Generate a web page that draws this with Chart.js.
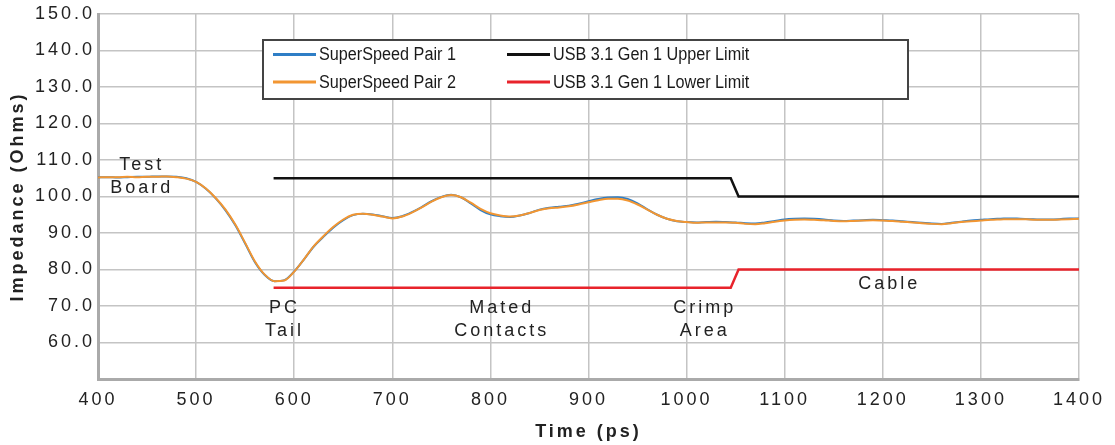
<!DOCTYPE html>
<html>
<head>
<meta charset="utf-8">
<script src="https://cdn.jsdelivr.net/npm/chart.js@4"></script>
<style>
html,body{margin:0;padding:0;background:#fff;}
#wrap{width:1115px;height:445px;position:relative;}
</style>
</head>
<body>
<div id="wrap"><canvas id="c" width="1115" height="445"></canvas></div>
<script>
// ---- data ----
const timePs = [];
for (let t = 400; t <= 1400; t += 10) timePs.push(t);

const pair1 = [
  105.3,105.3,105.2,105.3,105.4,105.4,105.5,105.5,105.4,105.0,
  104.0,102.1, 99.5, 96.2, 92.1, 87.1, 82.0, 78.5, 76.8, 77.1,
   79.5, 82.8, 86.3, 89.0, 91.5, 93.5, 94.9, 95.3, 95.1, 94.6,
   94.1, 94.6, 95.7, 97.1, 98.7, 99.9,100.5, 99.8, 98.1, 96.3,
   95.1, 94.6, 94.4, 94.8, 95.5, 96.4, 96.9, 97.2, 97.5, 98.0,
   98.7, 99.3, 99.7, 99.8, 99.3, 98.1, 96.5, 95.0, 93.9, 93.2,
   93.0, 92.9, 93.0, 93.1, 93.0, 92.9, 92.7, 92.6, 92.9, 93.3,
   93.7, 93.9, 94.0, 93.9, 93.7, 93.4, 93.3, 93.4, 93.5, 93.6,
   93.5, 93.4, 93.2, 93.0, 92.8, 92.6, 92.5, 92.8, 93.1, 93.4,
   93.6, 93.8, 93.9, 94.0, 93.9, 93.8, 93.7, 93.7, 93.8, 94.0,
   94.0
];
const pair2 = [
  105.2,105.3,105.3,105.4,105.3,105.4,105.4,105.5,105.3,104.9,
  104.0,102.2, 99.6, 96.4, 92.3, 87.3, 82.2, 78.6, 76.8, 77.0,
   79.4, 82.8, 86.4, 89.2, 91.7, 93.7, 95.0, 95.3, 95.0, 94.5,
   94.0, 94.5, 95.6, 97.0, 98.6, 99.8,100.4, 99.8, 98.3, 96.6,
   95.4, 94.8, 94.5, 94.8, 95.5, 96.3, 96.8, 97.0, 97.3, 97.8,
   98.4, 99.0, 99.4, 99.4, 98.9, 97.8, 96.4, 95.0, 93.9, 93.3,
   93.0, 92.8, 92.9, 92.9, 92.9, 92.8, 92.5, 92.4, 92.7, 93.1,
   93.4, 93.6, 93.7, 93.6, 93.5, 93.3, 93.2, 93.3, 93.4, 93.5,
   93.4, 93.3, 93.1, 92.9, 92.7, 92.5, 92.4, 92.7, 93.0, 93.2,
   93.4, 93.6, 93.7, 93.8, 93.8, 93.7, 93.6, 93.6, 93.7, 93.8,
   93.9
];

const limitTimePs = [579, 1045, 1053, 1400];
const upperLimit = [105, 105, 100, 100];
const lowerLimit = [75, 75, 80, 80];

const seriesNames = ['SuperSpeed Pair 1', 'SuperSpeed Pair 2', 'USB 3.1 Gen 1 Upper Limit', 'USB 3.1 Gen 1 Lower Limit'];
const seriesColors = ['#2e7ec6', '#f29632', '#111111', '#e8232b'];

const xTickValues = [400,500,600,700,800,900,1000,1100,1200,1300,1400];
const yTickValues = [60,70,80,90,100,110,120,130,140,150];

const regionLabels = [
  {lines: ['Test', 'Board'], x: 443, y: [108.6, 102.3]},
  {lines: ['PC', 'Tail'], x: 588.5, y: [69.5, 63.2]},
  {lines: ['Mated', 'Contacts'], x: 810, y: [69.5, 63.2]},
  {lines: ['Crimp', 'Area'], x: 1017, y: [69.5, 63.2]},
  {lines: ['Cable'], x: 1205, y: [76.0]}
];

// ---- chart ----
const toXY = (xs, ys) => xs.map((x, i) => ({x: x, y: ys[i]}));

const spacingPlugin = {
  id: 'spacing',
  beforeUpdate(chart) { chart.ctx.letterSpacing = '3px'; },
  beforeLayout(chart) { chart.ctx.letterSpacing = '3px'; },
  beforeDraw(chart) { chart.ctx.letterSpacing = '3px'; }
};

const annotPlugin = {
  id: 'annot',
  afterDraw(chart) {
    const ctx = chart.ctx;
    const xs = chart.scales.x, ys = chart.scales.y;
    ctx.save();
    ctx.letterSpacing = '3px';
    ctx.font = '18px "Liberation Sans", Arial, sans-serif';
    ctx.fillStyle = '#222';
    ctx.textAlign = 'center';
    ctx.textBaseline = 'middle';
    regionLabels.forEach(r => {
      r.lines.forEach((t, i) => {
        ctx.fillText(t, xs.getPixelForValue(r.x) + 1.5, ys.getPixelForValue(r.y[i]));
      });
    });
    ctx.restore();

    // legend
    const ca = chart.chartArea;
    const bx = ca.left + 165, by = 40, bw = 645, bh = 59;
    ctx.save();
    ctx.letterSpacing = '0px';
    ctx.fillStyle = '#fff';
    ctx.fillRect(bx, by, bw, bh);
    ctx.strokeStyle = '#444';
    ctx.lineWidth = 2;
    ctx.strokeRect(bx, by, bw, bh);
    const cols = [bx + 10, bx + 244];
    const rows = [by + 14.5, by + 42];
    chart.data.datasets.forEach((ds, i) => {
      const col = cols[Math.floor(i / 2)], row = rows[i % 2];
      ctx.strokeStyle = ds.borderColor;
      ctx.lineWidth = 3;
      ctx.beginPath();
      ctx.moveTo(col, row);
      ctx.lineTo(col + 43, row);
      ctx.stroke();
      ctx.save();
      ctx.translate(col + 46, row);
      ctx.scale(0.9, 1);
      ctx.font = '18px "Liberation Sans", Arial, sans-serif';
      ctx.fillStyle = '#1a1a1a';
      ctx.textAlign = 'left';
      ctx.textBaseline = 'middle';
      ctx.fillText(ds.label, 0, 1);
      ctx.restore();
    });
    ctx.restore();
  }
};

const tickFont = {family: '"Liberation Sans", Arial, sans-serif', size: 18};
const titleFont = {family: '"Liberation Sans", Arial, sans-serif', size: 18, weight: 'bold'};

new Chart(document.getElementById('c'), {
  type: 'line',
  data: {
    datasets: [
      {label: seriesNames[0], data: toXY(timePs, pair1), borderColor: seriesColors[0], borderWidth: 2, pointRadius: 0, cubicInterpolationMode: 'monotone', order: 2},
      {label: seriesNames[1], data: toXY(timePs, pair2), borderColor: seriesColors[1], borderWidth: 2, pointRadius: 0, cubicInterpolationMode: 'monotone', order: 1},
      {label: seriesNames[2], data: toXY(limitTimePs, upperLimit), borderColor: seriesColors[2], borderWidth: 2.5, pointRadius: 0, tension: 0, order: 0},
      {label: seriesNames[3], data: toXY(limitTimePs, lowerLimit), borderColor: seriesColors[3], borderWidth: 2.5, pointRadius: 0, tension: 0, order: 0}
    ]
  },
  options: {
    responsive: false,
    animation: false,
    devicePixelRatio: 1,
    layout: {padding: {left: 0, top: 14, right: 35, bottom: 0}},
    plugins: {legend: {display: false}, tooltip: {enabled: false}},
    scales: {
      x: {
        type: 'linear', min: 400, max: 1400,
        afterBuildTicks: s => { s.ticks = xTickValues.map(v => ({value: v})); },
        afterFit: s => { s.height = 66; },
        grid: {color: '#c4c4c4', lineWidth: 1.5, drawTicks: false},
        border: {color: '#aaaaaa', width: 3},
        ticks: {font: tickFont, color: '#222', padding: 10, maxRotation: 0, autoSkip: false, callback: v => String(v)},
        title: {display: true, text: 'Time (ps)', font: titleFont, color: '#222', padding: {top: 0, bottom: 2}}
      },
      y: {
        type: 'linear', min: 50, max: 150,
        afterBuildTicks: s => { s.ticks = yTickValues.map(v => ({value: v})); },
        afterFit: s => { s.width = 98; },
        grid: {color: '#c4c4c4', lineWidth: 1.5, drawTicks: false},
        border: {color: '#aaaaaa', width: 3},
        ticks: {font: tickFont, color: '#222', padding: 3, autoSkip: false, callback: v => Number(v).toFixed(1)},
        title: {display: true, text: 'Impedance (Ohms)', font: titleFont, color: '#222', padding: {top: 7, bottom: 0}}
      }
    }
  },
  plugins: [spacingPlugin, annotPlugin]
});
</script>
</body>
</html>
